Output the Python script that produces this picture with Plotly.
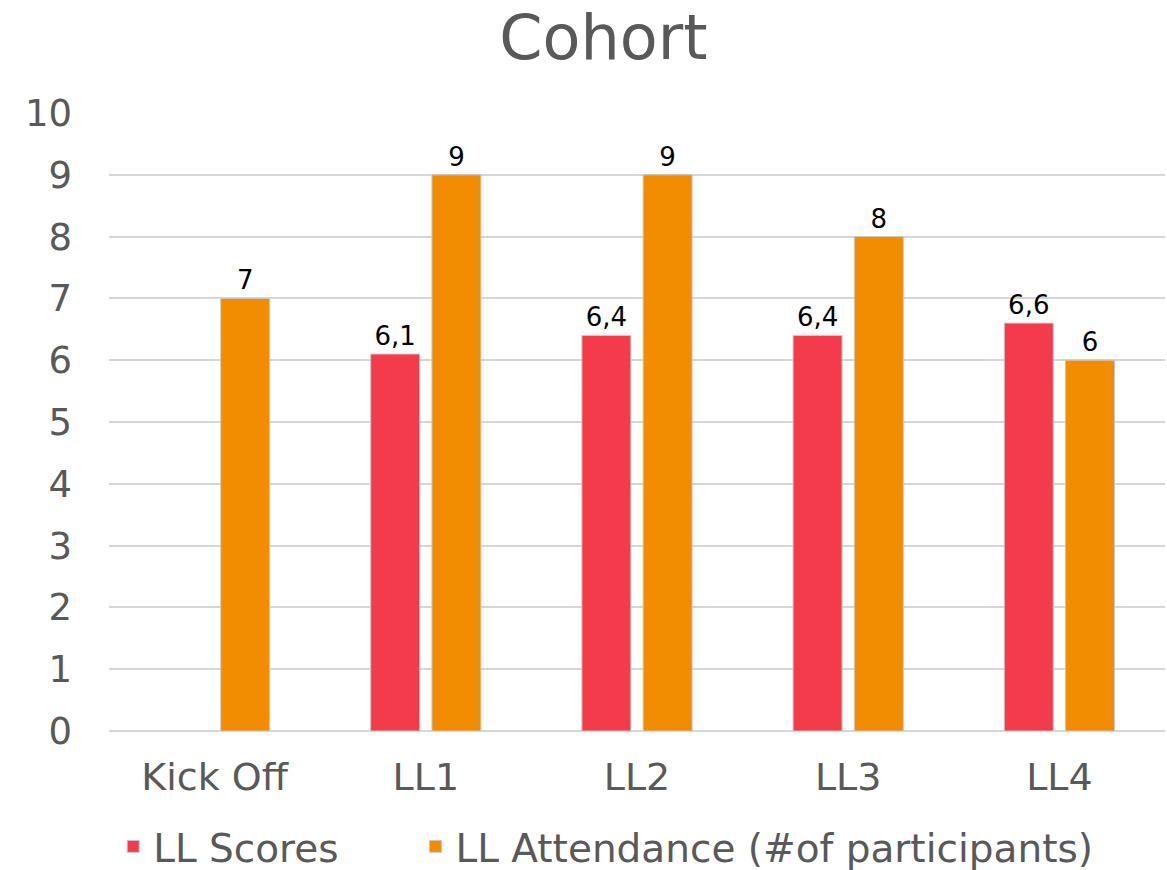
import plotly.graph_objects as go

categories = ["Kick Off", "LL1", "LL2", "LL3", "LL4"]
ll_scores = [None, 6.1, 6.4, 6.4, 6.6]
ll_attendance = [7, 9, 9, 8, 6]
y_ticks = [0, 1, 2, 3, 4, 5, 6, 7, 8, 9, 10]

FONT = "DejaVu Sans, Liberation Sans, sans-serif"
GREY = "#595959"

fig = go.Figure()
fig.add_trace(go.Bar(
    name="LL Scores", x=categories, y=ll_scores,
    marker=dict(color="#F33B4B", line=dict(color="#C9C9C9", width=1)),
    text=[None if v is None else f"{v:.1f}".replace(".", ",") for v in ll_scores],
    textposition="outside", cliponaxis=False,
    textfont=dict(family=FONT, size=26, color="#000000"),
    legend="legend",
))
fig.add_trace(go.Bar(
    name="LL Attendance (#of participants)", x=categories, y=ll_attendance,
    marker=dict(color="#F28C00", line=dict(color="#C9C9C9", width=1)),
    text=[str(v) for v in ll_attendance],
    textposition="outside", cliponaxis=False,
    textfont=dict(family=FONT, size=26, color="#000000"),
    legend="legend2",
))

legend_style = dict(orientation="h", xref="container", yref="container",
                    xanchor="left", y=0.027, yanchor="middle",
                    font=dict(family=FONT, size=39, color=GREY),
                    itemwidth=30, bgcolor="rgba(0,0,0,0)")

fig.update_layout(
    width=1167, height=870,
    paper_bgcolor="white", plot_bgcolor="white",
    barmode="group", bargap=0.42, bargroupgap=0.2,
    margin=dict(l=109, r=2, t=113, b=139),
    font=dict(family=FONT, color=GREY),
    title=dict(text="Cohort", x=0.517, xanchor="center", y=0.957, yanchor="middle",
               font=dict(family=FONT, size=62, color=GREY)),
    showlegend=True,
    legend=dict(x=0.097, **legend_style),
    legend2=dict(x=0.356, **legend_style),
    xaxis=dict(showgrid=False, showline=False, zeroline=False,
               tickfont=dict(family=FONT, size=38, color=GREY),
               ticklabelstandoff=20),
    yaxis=dict(range=[0, 10], tickvals=y_ticks, showgrid=True,
               gridcolor="#D6D6D6", gridwidth=2, zeroline=True,
               zerolinecolor="#D6D6D6", zerolinewidth=2, showline=False,
               tickfont=dict(family=FONT, size=37, color=GREY),
               ticklabelstandoff=36),
)

fig.write_html("out.html")
